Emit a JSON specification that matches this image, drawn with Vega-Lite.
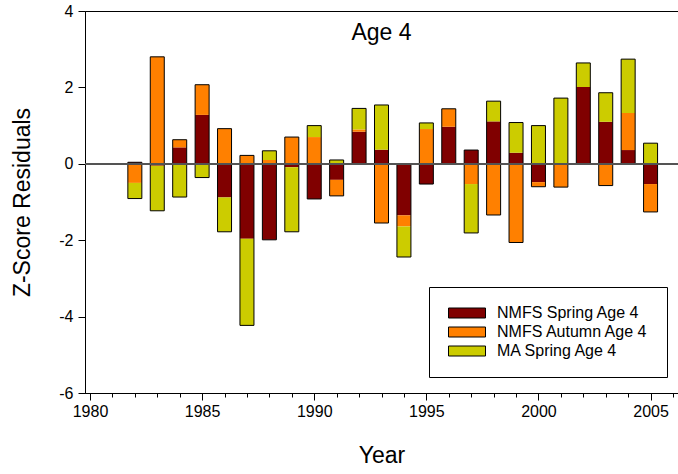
{
  "$schema": "https://vega.github.io/schema/vega-lite/v6.json",
  "width": 593,
  "height": 382,
  "autosize": {"type": "none"},
  "padding": {"left": 85, "top": 11, "right": 0, "bottom": 81},
  "background": "white",
  "title": {"text": "Age 4", "fontSize": 23, "font": "Liberation Sans", "fontWeight": "normal", "color": "black", "offset": -60, "anchor": "middle", "baseline": "alphabetic"},
  "config": {
    "view": {"stroke": "black", "strokeWidth": 1},
    "axis": {"labelFont": "Liberation Sans", "labelFontSize": 16, "labelColor": "black", "titleFont": "Liberation Sans", "titleFontSize": 23, "titleFontWeight": "normal", "titleColor": "black", "domainColor": "black", "tickColor": "black", "grid": false}
  },
  "datasets": {
    "d": [
      {"year": 1982, "series": "NMFS Spring Age 4", "value": 0.04},
      {"year": 1982, "series": "NMFS Autumn Age 4", "value": -0.50},
      {"year": 1982, "series": "MA Spring Age 4", "value": -0.41},
      {"year": 1983, "series": "NMFS Spring Age 4", "value": -0.05},
      {"year": 1983, "series": "NMFS Autumn Age 4", "value": 2.80},
      {"year": 1983, "series": "MA Spring Age 4", "value": -1.18},
      {"year": 1984, "series": "NMFS Spring Age 4", "value": 0.43},
      {"year": 1984, "series": "NMFS Autumn Age 4", "value": 0.20},
      {"year": 1984, "series": "MA Spring Age 4", "value": -0.87},
      {"year": 1985, "series": "NMFS Spring Age 4", "value": 1.28},
      {"year": 1985, "series": "NMFS Autumn Age 4", "value": 0.79},
      {"year": 1985, "series": "MA Spring Age 4", "value": -0.36},
      {"year": 1986, "series": "NMFS Spring Age 4", "value": -0.88},
      {"year": 1986, "series": "NMFS Autumn Age 4", "value": 0.92},
      {"year": 1986, "series": "MA Spring Age 4", "value": -0.90},
      {"year": 1987, "series": "NMFS Spring Age 4", "value": -1.96},
      {"year": 1987, "series": "NMFS Autumn Age 4", "value": 0.22},
      {"year": 1987, "series": "MA Spring Age 4", "value": -2.27},
      {"year": 1988, "series": "NMFS Spring Age 4", "value": -1.99},
      {"year": 1988, "series": "NMFS Autumn Age 4", "value": 0.10},
      {"year": 1988, "series": "MA Spring Age 4", "value": 0.24},
      {"year": 1989, "series": "NMFS Spring Age 4", "value": -0.09},
      {"year": 1989, "series": "NMFS Autumn Age 4", "value": 0.70},
      {"year": 1989, "series": "MA Spring Age 4", "value": -1.69},
      {"year": 1990, "series": "NMFS Spring Age 4", "value": -0.92},
      {"year": 1990, "series": "NMFS Autumn Age 4", "value": 0.70},
      {"year": 1990, "series": "MA Spring Age 4", "value": 0.30},
      {"year": 1991, "series": "NMFS Spring Age 4", "value": -0.42},
      {"year": 1991, "series": "NMFS Autumn Age 4", "value": -0.42},
      {"year": 1991, "series": "MA Spring Age 4", "value": 0.10},
      {"year": 1992, "series": "NMFS Spring Age 4", "value": 0.84},
      {"year": 1992, "series": "NMFS Autumn Age 4", "value": 0.06},
      {"year": 1992, "series": "MA Spring Age 4", "value": 0.55},
      {"year": 1993, "series": "NMFS Spring Age 4", "value": 0.37},
      {"year": 1993, "series": "NMFS Autumn Age 4", "value": -1.55},
      {"year": 1993, "series": "MA Spring Age 4", "value": 1.17},
      {"year": 1994, "series": "NMFS Spring Age 4", "value": -1.35},
      {"year": 1994, "series": "NMFS Autumn Age 4", "value": -0.29},
      {"year": 1994, "series": "MA Spring Age 4", "value": -0.80},
      {"year": 1995, "series": "NMFS Spring Age 4", "value": -0.53},
      {"year": 1995, "series": "NMFS Autumn Age 4", "value": 0.91},
      {"year": 1995, "series": "MA Spring Age 4", "value": 0.16},
      {"year": 1996, "series": "NMFS Spring Age 4", "value": 0.97},
      {"year": 1996, "series": "NMFS Autumn Age 4", "value": 0.47},
      {"year": 1997, "series": "NMFS Spring Age 4", "value": 0.36},
      {"year": 1997, "series": "NMFS Autumn Age 4", "value": -0.53},
      {"year": 1997, "series": "MA Spring Age 4", "value": -1.28},
      {"year": 1998, "series": "NMFS Spring Age 4", "value": 1.11},
      {"year": 1998, "series": "NMFS Autumn Age 4", "value": -1.34},
      {"year": 1998, "series": "MA Spring Age 4", "value": 0.53},
      {"year": 1999, "series": "NMFS Spring Age 4", "value": 0.29},
      {"year": 1999, "series": "NMFS Autumn Age 4", "value": -2.06},
      {"year": 1999, "series": "MA Spring Age 4", "value": 0.79},
      {"year": 2000, "series": "NMFS Spring Age 4", "value": -0.48},
      {"year": 2000, "series": "NMFS Autumn Age 4", "value": -0.12},
      {"year": 2000, "series": "MA Spring Age 4", "value": 1.00},
      {"year": 2001, "series": "NMFS Autumn Age 4", "value": -0.61},
      {"year": 2001, "series": "MA Spring Age 4", "value": 1.72},
      {"year": 2002, "series": "NMFS Spring Age 4", "value": 2.01},
      {"year": 2002, "series": "MA Spring Age 4", "value": 0.63},
      {"year": 2003, "series": "NMFS Spring Age 4", "value": 1.10},
      {"year": 2003, "series": "NMFS Autumn Age 4", "value": -0.57},
      {"year": 2003, "series": "MA Spring Age 4", "value": 0.76},
      {"year": 2004, "series": "NMFS Spring Age 4", "value": 0.36},
      {"year": 2004, "series": "NMFS Autumn Age 4", "value": 0.97},
      {"year": 2004, "series": "MA Spring Age 4", "value": 1.41},
      {"year": 2005, "series": "NMFS Spring Age 4", "value": -0.53},
      {"year": 2005, "series": "NMFS Autumn Age 4", "value": -0.73},
      {"year": 2005, "series": "MA Spring Age 4", "value": 0.54}
    ]
  },
  "data": {"name": "d"},
  "layer": [
    {
      "mark": {"type": "bar", "size": 14, "orient": "vertical"},
      "encoding": {
        "x": {"field": "year", "type": "quantitative", "scale": {"domain": [1980, 2006], "nice": false, "zero": false},
          "axis": {"values": [1980, 1985, 1990, 1995, 2000, 2005], "format": "d", "tickSize": 7, "labelPadding": 3, "labelFontSize": 16, "labelFont": "Liberation Sans", "title": "Year", "titlePadding": 25, "orient": "bottom"}},
        "y": {"field": "value", "type": "quantitative", "stack": "zero", "scale": {"domain": [-6, 4], "nice": false},
          "axis": {"values": [-6, -4, -2, 0, 2, 4], "labelExpr": "'' + datum.value", "tickSize": 7, "labelPadding": 5, "labelFontSize": 16, "labelFont": "Liberation Sans", "title": "Z-Score Residuals", "titlePadding": 24}},
        "color": {"field": "series", "type": "nominal",
          "sort": ["NMFS Spring Age 4", "NMFS Autumn Age 4", "MA Spring Age 4"],
          "scale": {"domain": ["NMFS Spring Age 4", "NMFS Autumn Age 4", "MA Spring Age 4"], "range": ["#800000", "#FF8000", "#CCCC00"]},
          "legend": {"orient": "none", "legendX": 344, "legendY": 276, "title": null, "padding": 18, "strokeColor": "black", "fillColor": "white", "cornerRadius": 0,
            "symbolType": "M-3.7,-1H3.7V1H-3.7Z", "symbolSize": 100, "symbolStrokeColor": "black", "symbolStrokeWidth": 1, "symbolOpacity": 1, "symbolOffset": 12,
            "labelOffset": 22, "labelFont": "Liberation Sans", "labelFontSize": 16, "labelColor": "black", "labelLimit": 300, "rowPadding": 3}}
      }
    },
    {
      "transform": [{"filter": "datum.value > 0"}, {"aggregate": [{"op": "sum", "field": "value", "as": "value"}], "groupby": ["year"]}],
      "mark": {"type": "bar", "size": 14, "orient": "vertical", "fill": "transparent", "stroke": "black", "strokeWidth": 1},
      "encoding": {
        "x": {"field": "year", "type": "quantitative", "axis": {"values": [1980, 1981, 1982, 1983, 1984, 1985, 1986, 1987, 1988, 1989, 1990, 1991, 1992, 1993, 1994, 1995, 1996, 1997, 1998, 1999, 2000, 2001, 2002, 2003, 2004, 2005, 2006], "tickSize": 4, "labels": false, "domain": false, "title": null, "orient": "bottom"}},
        "y": {"field": "value", "type": "quantitative", "stack": null, "title": "Z-Score Residuals"}
      }
    },
    {
      "transform": [{"filter": "datum.value < 0"}, {"aggregate": [{"op": "sum", "field": "value", "as": "value"}], "groupby": ["year"]}],
      "mark": {"type": "bar", "size": 14, "orient": "vertical", "fill": "transparent", "stroke": "black", "strokeWidth": 1},
      "encoding": {
        "x": {"field": "year", "type": "quantitative", "axis": null},
        "y": {"field": "value", "type": "quantitative", "stack": null, "title": "Z-Score Residuals"}
      }
    },
    {
      "mark": {"type": "rule", "color": "#555555", "strokeWidth": 1},
      "encoding": {"y": {"datum": 0}}
    }
  ],
  "resolve": {"axis": {"x": "independent"}}
}
